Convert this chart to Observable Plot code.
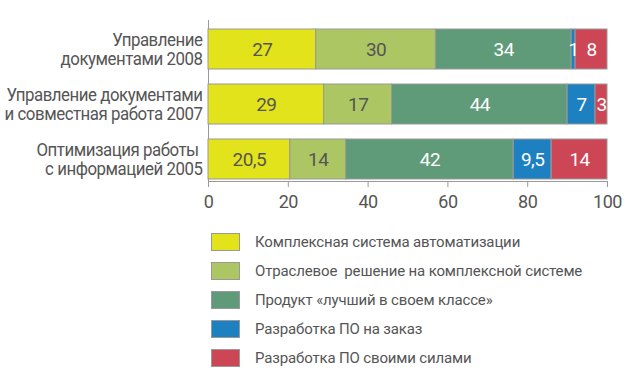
<!DOCTYPE html>
<html>
<head>
<meta charset="utf-8">
<script src="https://cdn.jsdelivr.net/npm/d3@7"></script>
<script src="https://cdn.jsdelivr.net/npm/@observablehq/plot@0.6"></script>
<style>
  body { margin: 0; background: #fff; width: 640px; }
  #chart svg { display: block; }
  .legend { margin: 16px 0 0 211px; font-family: Roboto, sans-serif; font-size: 15px; color: #555; letter-spacing: -0.15px; }
  .row { display: flex; align-items: center; height: 30px; margin-top: -1px; white-space: pre; }
  .sw { width: 27px; height: 16px; border: 1px solid #999; margin-right: 15px; flex: none; }
</style>
</head>
<body>
<div id="chart"></div>
<div class="legend" id="legend"></div>
<script>
const categories = [
  "Управление\nдокументами 2008",
  "Управление документами\nи совместная работа 2007",
  "Оптимизация работы\u00a0\nс информацией 2005"
];
const seriesNames = [
  "Комплексная система автоматизации",
  "Отраслевое  решение на комплексной системе",
  "Продукт «лучший в своем классе»",
  "Разработка ПО на заказ",
  "Разработка ПО своими силами"
];
const colors = ["#e3e31b", "#adc664", "#5f9b79", "#1d80c0", "#cd4656"];
const values2008 = [27, 30, 34, 1, 8];
const values2007 = [29, 17, 44, 7, 3];
const values2005 = [20.5, 14, 42, 9.5, 14];
const xTicks = [0, 20, 40, 60, 80, 100];

const allValues = [values2008, values2007, values2005];
const data = [];
categories.forEach((c, i) => {
  seriesNames.forEach((s, j) => {
    data.push({cat: c, series: s, idx: j, value: allValues[i][j]});
  });
});
const fmt = v => String(v).replace(".", ",");
const font = 'Roboto, sans-serif';

const chart = Plot.plot({
  width: 640,
  height: 212,
  marginLeft: 208,
  marginRight: 33,
  marginTop: 20,
  marginBottom: 31,
  style: {fontFamily: font, color: "#999", background: "#fff", fontSize: "18px", letterSpacing: "-0.5px"},
  x: {domain: [0, 100], ticks: xTicks, tickSize: 6, tickPadding: 8, line: true, label: null},
  y: {domain: categories, paddingInner: 0.279, paddingOuter: 0.09, align: 0.8, axis: null},
  color: {domain: seriesNames, range: colors},
  marks: [
    Plot.ruleX([0], {stroke: "#999"}),
    Plot.barX(data, Plot.stackX({x: "value", y: "cat", fill: "series", stroke: "#999", strokeWidth: 1, order: null})),
    Plot.textX(data, Plot.stackX({x: "value", y: "cat", text: d => d.idx < 2 ? fmt(d.value) : null, fill: "#555", fontSize: 19, order: null})),
    Plot.textX(data, Plot.stackX({x: "value", y: "cat", text: d => d.idx >= 2 ? fmt(d.value) : null, fill: "#fff", fontSize: 19, order: null})),
    Plot.text(categories, {y: d => d, text: d => d, frameAnchor: "left", textAnchor: "end", dx: -6, fontSize: 18.5, lineHeight: 1.04, fill: "#555"})
  ]
});
chart.querySelectorAll('[aria-label="x-axis tick label"]').forEach(g => g.setAttribute("fill", "#555"));
// condense the category labels horizontally around their right edge
{
  const groups = chart.querySelectorAll('g[aria-label="text"]');
  const g = groups[groups.length - 1];
  const wrap = document.createElementNS("http://www.w3.org/2000/svg", "g");
  wrap.setAttribute("transform", "translate(202 0) scale(0.91 1) translate(-202 0)");
  g.parentNode.insertBefore(wrap, g);
  wrap.appendChild(g);
}
document.getElementById("chart").appendChild(chart);

const legend = document.getElementById("legend");
seriesNames.forEach((s, i) => {
  const row = document.createElement("div");
  row.className = "row";
  const sw = document.createElement("div");
  sw.className = "sw";
  sw.style.background = colors[i];
  const t = document.createElement("span");
  t.textContent = s;
  row.appendChild(sw);
  row.appendChild(t);
  legend.appendChild(row);
});
</script>
</body>
</html>
